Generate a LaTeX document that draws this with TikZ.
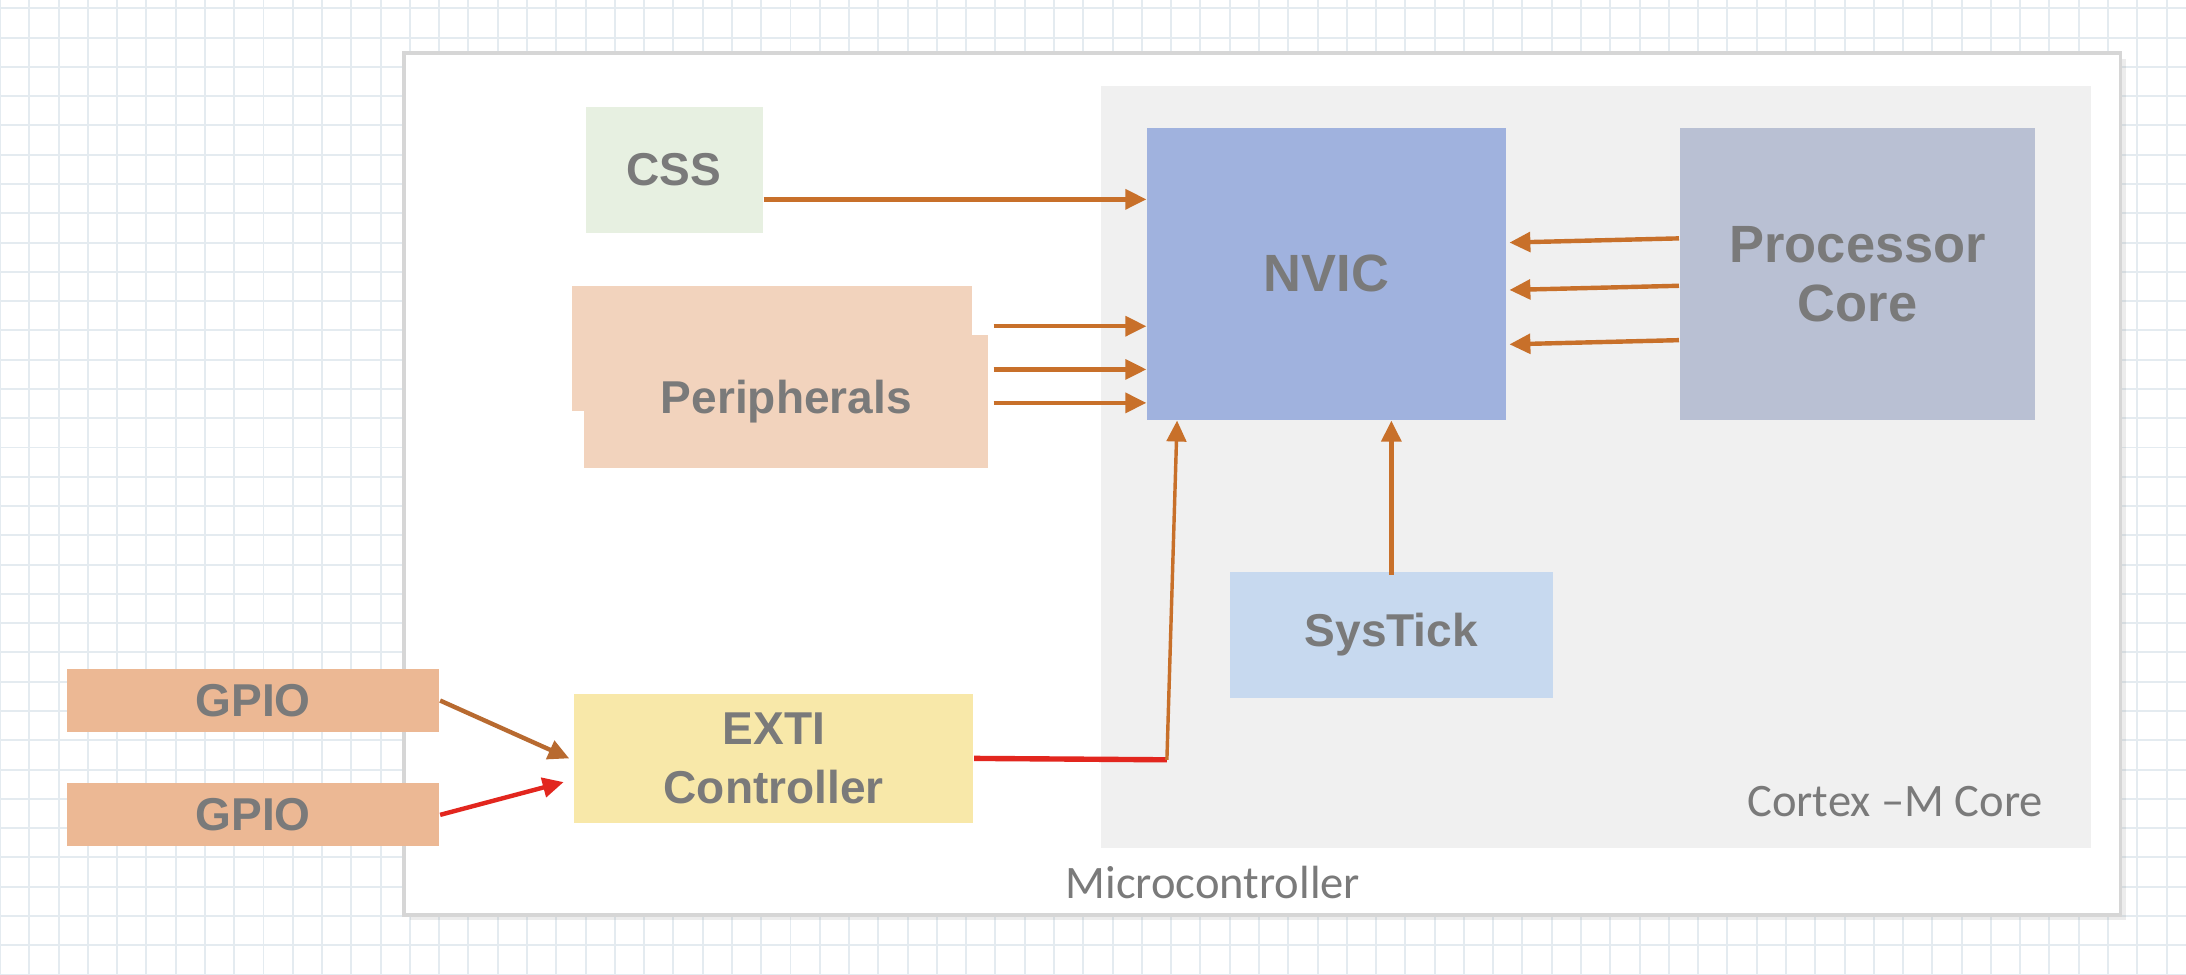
\documentclass[tikz,border=0pt]{standalone}
\usepackage{fontspec}
\setmainfont{Liberation Sans}
\newfontfamily\lblfont{Carlito}
\usetikzlibrary{shapes,arrows.meta,shadows,calc}
\usetikzlibrary{positioning}
\definecolor{fg}{HTML}{7A7A7A}
\definecolor{gridc}{HTML}{E4EBF0}
\definecolor{corebg}{HTML}{F0F0F0}
\definecolor{mculine}{HTML}{D6D6D6}
\definecolor{cssc}{HTML}{E7F0E1}
\definecolor{perc}{HTML}{F2D3BD}
\definecolor{nvicc}{HTML}{A0B2DE}
\definecolor{procc}{HTML}{B9C0D3}
\definecolor{tickc}{HTML}{C7D9EF}
\definecolor{extic}{HTML}{F8E8A9}
\definecolor{gpioc}{HTML}{ECB894}
\definecolor{orng}{HTML}{C8702A}
\definecolor{brwn}{HTML}{B86A30}
\definecolor{redc}{HTML}{E2261E}
\tikzstyle{blk}=[rectangle, inner sep=0pt, align=center, text=fg,
font=\bfseries\fontsize{9.4}{12}\selectfont]
\tikzstyle{big}=[font=\bfseries\fontsize{10.7}{12}\selectfont]
\tikzstyle{lbl}=[text=fg, inner sep=0pt, font=\lblfont\fontsize{9.5}{11}\selectfont]
\tikzstyle{myarrow}=[-{Triangle[length=1.5mm, width=1.4mm]}, line width=0.9pt, orng]

\begin{document}
\begin{tikzpicture}
    \useasboundingbox (0,0) rectangle (15.68,6.99);
    % grid paper behind
    \draw[gridc, line width=0.4pt, step=0.21] (0,0) grid (15.68,6.99);

    \node[draw=mculine, fill=white, line width=0.8pt, inner sep=0pt,
        minimum width=12.31cm, minimum height=6.18cm,
        drop shadow={opacity=0.15, shadow xshift=0.4mm, shadow yshift=-0.4mm}]
        (mcu) at (9.055,3.52) {};
    \node[fill=corebg, inner sep=0pt, minimum width=7.10cm, minimum height=5.46cm]
        (core) at (11.45,3.64) {};
    \node[lbl, anchor=east] (corelbl) at (14.66,1.24) {Cortex –M Core};
    \node[lbl] (mculbl) at (8.70,0.66) {Microcontroller};

    \node[blk, fill=cssc, minimum width=1.27cm, minimum height=0.90cm] (css)
        at (4.835,5.77) {CSS};
    \node[blk, fill=perc, minimum width=2.87cm, minimum height=0.90cm] (perback)
        at (5.535,4.49) {};
    \node[blk, fill=perc, minimum width=2.90cm, minimum height=0.95cm] (perif)
        at (5.64,4.11) {Peripherals};
    \node[blk, big, fill=nvicc, minimum width=2.57cm, minimum height=2.09cm] (nvic)
        at (9.515,5.025) {NVIC};
    \node[blk, big, fill=procc, minimum width=2.55cm, minimum height=2.09cm] (proc)
        at (13.325,5.025) {Processor\\Core};
    \node[blk, fill=tickc, minimum width=2.32cm, minimum height=0.91cm] (tick)
        at (9.98,2.435) {SysTick};
    \node[blk, fill=extic, minimum width=2.86cm, minimum height=0.92cm] (exti)
        at (5.55,1.55) {EXTI\\Controller};
    \node[blk, fill=gpioc, minimum width=2.67cm, minimum height=0.45cm] (gpio1)
        at (1.815,1.965) {GPIO};
    \node[blk, fill=gpioc, minimum width=2.67cm, minimum height=0.45cm] (gpio2)
        at (1.815,1.145) {GPIO};

    \coordinate (cssout) at ($(css.east)+(0,-0.21)$);
    \draw[myarrow] (cssout) -- (cssout -| nvic.west);
    \foreach \y in {4.65,4.34,4.10}
        \draw[myarrow] ($(perif.east |- 0,\y)+(0.03,0)$) -- (nvic.west |- 0,\y);
    \foreach \y in {5.28,4.94,4.55}
        \draw[myarrow] (proc.west |- 0,\y) -- ($(nvic.east |- 0,\y)+(0.02,-0.03)$);
    \draw[myarrow] ($(tick.north)+(0,-0.03)$) -- (tick.north |- nvic.south);

    \coordinate (bend) at (8.37,1.54);
    \draw[redc, line width=1.1pt] (exti.east) -- (bend);
    \draw[myarrow, line width=0.7pt] (bend) -- ($(nvic.south west)+(0.22,0)$);

    \draw[myarrow, brwn] (gpio1.east) -- ($(exti.west)+(-0.03,0)$);
    \draw[myarrow, redc] (gpio2.east) -- ($(exti.west)+(-0.07,-0.17)$);
\end{tikzpicture}
\end{document}
